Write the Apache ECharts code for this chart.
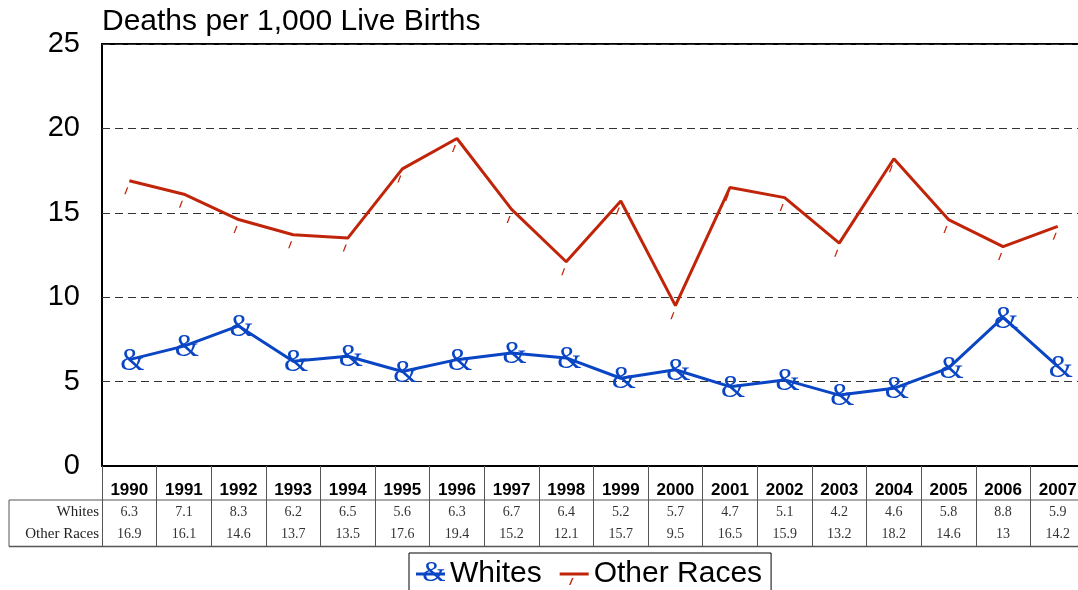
<!DOCTYPE html>
<html>
<head>
<meta charset="utf-8">
<script src="https://cdn.jsdelivr.net/npm/echarts@6/dist/echarts.min.js"></script>
<style>
  html, body { margin: 0; padding: 0; background: #fff; }
  #chart { width: 1078px; height: 590px; }
</style>
</head>
<body>
<div id="chart"></div>
<script>
  // data
  const years = ['1990', '1991', '1992', '1993', '1994', '1995', '1996', '1997', '1998',
    '1999', '2000', '2001', '2002', '2003', '2004', '2005', '2006', '2007'];
  const whites = [6.3, 7.1, 8.3, 6.2, 6.5, 5.6, 6.3, 6.7, 6.4, 5.2, 5.7, 4.7, 5.1, 4.2, 4.6, 5.8, 8.8, 5.9];
  const otherRaces = [16.9, 16.1, 14.6, 13.7, 13.5, 17.6, 19.4, 15.2, 12.1, 15.7, 9.5, 16.5, 15.9, 13.2, 18.2, 14.6, 13, 14.2];
  const yTicks = [0, 5, 10, 15, 20, 25];

  const BLUE = '#0a46c4';
  const RED = '#c0250a';
  const SANS = 'Liberation Sans';
  const SERIF = 'Liberation Serif';
  // tick mark under each "Other Races" point
  const TICK = 'path://M3,0 L4.5,0 L1.5,7 L0,7 Z';

  const chart = echarts.init(document.getElementById('chart'));
  const option = {
    backgroundColor: '#fff',
    animation: false,
    title: {
      text: 'Deaths per 1,000 Live Births',
      left: 102,
      top: 7,
      padding: 0,
      textStyle: { fontFamily: SANS, fontSize: 30, fontWeight: 'normal', color: '#000' }
    },
    grid: {
      left: 102,
      top: 44,
      width: 983,
      bottom: 124,
      outerBoundsMode: 'none',
      show: true,
      borderColor: '#000',
      borderWidth: 2
    },
    legend: {
      left: 409,
      top: 553,
      padding: [6, 9, 8, 7],
      itemWidth: 29,
      itemHeight: 3,
      itemGap: 18,
      borderColor: '#000',
      borderWidth: 1,
      data: [
        { name: 'Whites', icon: 'rect' },
        { name: 'Other Races', icon: 'rect' }
      ],
      textStyle: { fontFamily: SANS, fontSize: 30, color: '#000' }
    },
    xAxis: {
      type: 'category',
      data: years,
      boundaryGap: true,
      axisLine: { show: true, lineStyle: { color: '#000', width: 2 } },
      axisTick: {
        show: true,
        interval: 0,
        alignWithLabel: false,
        length: 81,
        lineStyle: { color: '#555', width: 1 }
      },
      axisLabel: {
        interval: 0,
        margin: 14,
        formatter: function (value, idx) {
          return '{y|' + value + '}\n{w|' + whites[idx] + '}\n{o|' + otherRaces[idx] + '}';
        },
        rich: {
          y: { fontFamily: SANS, fontWeight: 'bold', fontSize: 17, color: '#000', lineHeight: 21 },
          w: { fontFamily: SERIF, fontSize: 14, color: '#333', lineHeight: 22 },
          o: { fontFamily: SERIF, fontSize: 14, color: '#333', lineHeight: 22 }
        }
      }
    },
    yAxis: {
      type: 'value',
      min: yTicks[0],
      max: yTicks[yTicks.length - 1],
      interval: 5,
      axisLine: { show: false },
      axisTick: { show: false },
      axisLabel: { fontFamily: SANS, fontSize: 29, color: '#000', margin: 22 },
      splitLine: { show: true, lineStyle: { color: '#333', width: 1, type: [8, 5] } }
    },
    series: [
      {
        name: 'Whites',
        type: 'line',
        data: whites,
        color: BLUE,
        symbol: 'circle',
        symbolSize: 1,
        lineStyle: { color: BLUE, width: 3 },
        itemStyle: { color: BLUE },
        label: {
          show: true,
          position: 'inside',
          formatter: '&',
          offset: [3, 2],
          fontFamily: SERIF,
          fontSize: 31,
          color: BLUE
        },
        z: 3
      },
      {
        name: 'Other Races',
        type: 'line',
        data: otherRaces,
        color: RED,
        symbol: TICK,
        symbolSize: [4, 7],
        symbolOffset: [-3, 10],
        lineStyle: { color: RED, width: 3 },
        itemStyle: { color: RED },
        z: 2
      }
    ],
    graphic: [
      // data table rules
      { type: 'line', shape: { x1: 9, y1: 500, x2: 1078, y2: 500 }, style: { stroke: '#555', lineWidth: 1 } },
      { type: 'line', shape: { x1: 9, y1: 546.5, x2: 1078, y2: 546.5 }, style: { stroke: '#555', lineWidth: 1.5 } },
      { type: 'line', shape: { x1: 9, y1: 500, x2: 9, y2: 546.5 }, style: { stroke: '#555', lineWidth: 1 } },
      {
        type: 'text', x: 99, y: 512.5,
        style: { text: 'Whites', align: 'right', verticalAlign: 'middle', font: '15px "Liberation Serif"', fill: '#222' }
      },
      {
        type: 'text', x: 99, y: 534.5,
        style: { text: 'Other Races', align: 'right', verticalAlign: 'middle', font: '15px "Liberation Serif"', fill: '#222' }
      },
      // legend markers drawn over the legend icons
      {
        type: 'text', x: 434, y: 573, z: 100,
        style: { text: '&', align: 'center', verticalAlign: 'middle', font: '30px "Liberation Serif"', fill: BLUE }
      },
      {
        type: 'polygon', z: 100,
        shape: { points: [[572, 578], [573.5, 578], [570.5, 585], [569, 585]] },
        style: { fill: RED }
      }
    ]
  };
  chart.setOption(option);
  window.addEventListener('resize', function () {
    chart.resize();
  });
</script>
</body>
</html>
